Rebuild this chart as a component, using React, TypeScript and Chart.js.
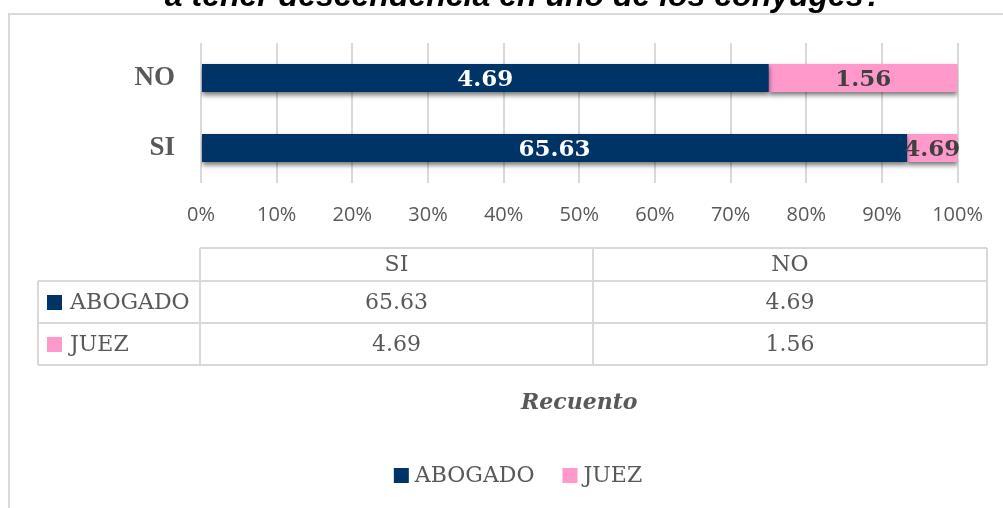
import React, { useEffect, useRef } from "react";
import { Chart, registerables } from "chart.js";

Chart.register(...registerables);

// ---- data ----
const categories = ["SI", "NO"];
const seriesNames = ["ABOGADO", "JUEZ"];
const abogadoValues = [65.63, 4.69];
const juezValues = [4.69, 1.56];
const chartTitle = "a tener descendencia en uno de los cónyuges?";
const axisTitle = "Recuento";

const NAVY = "#003366";
const PINK = "#FF99CC";
const GRAY_TEXT = "#595959";
const LINE = "#d9d9d9";
const SERIF = '"DejaVu Serif"';

const totals = categories.map((_, i) => abogadoValues[i] + juezValues[i]);
const abogadoPct = abogadoValues.map((v, i) => (v / totals[i]) * 100);
const juezPct = juezValues.map((v, i) => (v / totals[i]) * 100);
const seriesRaw = [abogadoValues, juezValues];
const seriesColors = [NAVY, PINK];
const labelColors = ["#ffffff", "#404040"];

const decorPlugin = {
  id: "excelDecor",
  beforeDraw(chart: any) {
    const ctx = chart.ctx;
    ctx.save();
    ctx.fillStyle = "#ffffff";
    ctx.fillRect(0, 0, chart.width, chart.height);
    // chart frame
    ctx.strokeStyle = LINE;
    ctx.lineWidth = 2;
    ctx.strokeRect(9, 14, 1016, 600);
    // title (clipped at top)
    ctx.fillStyle = "#000000";
    ctx.font = 'bold italic 32px "Liberation Sans"';
    ctx.textAlign = "center";
    ctx.textBaseline = "alphabetic";
    ctx.fillText(chartTitle, 524, 6);
    ctx.restore();
  },
  beforeDatasetsDraw(chart: any) {
    const ctx = chart.ctx;
    ctx.save();
    ctx.shadowColor = "rgba(0,0,0,0.55)";
    ctx.shadowBlur = 5;
    ctx.shadowOffsetX = 0;
    ctx.shadowOffsetY = 3;
  },
  afterDatasetsDraw(chart: any) {
    const ctx = chart.ctx;
    ctx.restore();
    ctx.save();
    ctx.font = `bold 23px ${SERIF}`;
    ctx.textAlign = "center";
    ctx.textBaseline = "middle";
    chart.data.datasets.forEach((ds: any, di: number) => {
      const meta = chart.getDatasetMeta(di);
      meta.data.forEach((el: any, i: number) => {
        const p = el.getProps(["x", "y", "base"], true);
        const cx = (p.x + p.base) / 2;
        ctx.fillStyle = labelColors[di];
        ctx.fillText(seriesRaw[di][i].toFixed(2), cx, p.y + 2);
      });
    });
    ctx.restore();
  },
  afterDraw(chart: any) {
    const ctx = chart.ctx;
    const area = chart.chartArea;
    ctx.save();
    // ---- data table ----
    const xL = 38, xC0 = 200, xC1 = 593, xR = 987;
    const yH = 248, y1 = 281, y2 = 323, y3 = 365;
    ctx.strokeStyle = LINE;
    ctx.lineWidth = 2;
    ctx.beginPath();
    ctx.moveTo(xC0, yH); ctx.lineTo(xR, yH);
    ctx.moveTo(xL, y1); ctx.lineTo(xR, y1);
    ctx.moveTo(xL, y2); ctx.lineTo(xR, y2);
    ctx.moveTo(xL, y3); ctx.lineTo(xR, y3);
    ctx.moveTo(xL, y1); ctx.lineTo(xL, y3);
    ctx.moveTo(xC0, yH); ctx.lineTo(xC0, y3);
    ctx.moveTo(xC1, yH); ctx.lineTo(xC1, y3);
    ctx.moveTo(xR, yH); ctx.lineTo(xR, y3);
    ctx.stroke();

    ctx.font = `22px ${SERIF}`;
    ctx.fillStyle = GRAY_TEXT;
    ctx.textBaseline = "middle";
    ctx.textAlign = "center";
    const colX = [(xC0 + xC1) / 2, (xC1 + xR) / 2];
    categories.forEach((c, i) => ctx.fillText(c, colX[i], (yH + y1) / 2 + 1));
    const rowY = [(y1 + y2) / 2 + 1, (y2 + y3) / 2 + 1];
    seriesNames.forEach((name, si) => {
      ctx.fillStyle = seriesColors[si];
      ctx.fillRect(47, rowY[si] - 8, 15, 15);
      ctx.fillStyle = GRAY_TEXT;
      ctx.textAlign = "left";
      ctx.fillText(name, 70, rowY[si]);
      ctx.textAlign = "center";
      seriesRaw[si].forEach((v, ci) => ctx.fillText(v.toFixed(2), colX[ci], rowY[si]));
    });

    // ---- axis title ----
    ctx.font = `bold italic 22px ${SERIF}`;
    ctx.textAlign = "center";
    ctx.fillText(axisTitle, (area.left + area.right) / 2, 403);

    // ---- legend ----
    ctx.font = `22px ${SERIF}`;
    const sq = 15, gap = 6, spacing = 28;
    const widths = seriesNames.map((n) => ctx.measureText(n).width);
    const total = widths.reduce((a, w) => a + sq + gap + w, 0) + spacing * (seriesNames.length - 1);
    let x = 518 - total / 2;
    const ly = 476;
    ctx.textAlign = "left";
    seriesNames.forEach((n, i) => {
      ctx.fillStyle = seriesColors[i];
      ctx.fillRect(x, ly - 8, sq, sq);
      ctx.fillStyle = GRAY_TEXT;
      ctx.fillText(n, x + sq + gap, ly);
      x += sq + gap + widths[i] + spacing;
    });
    ctx.restore();
  },
};

export default function App() {
  const ref = useRef<HTMLCanvasElement | null>(null);
  useEffect(() => {
    if (!ref.current) return;
    const chart = new Chart(ref.current, {
      type: "bar",
      data: {
        labels: categories,
        datasets: [
          {
            label: seriesNames[0],
            data: abogadoPct,
            backgroundColor: NAVY,
            categoryPercentage: 0.8,
            barPercentage: 0.5,
          },
          {
            label: seriesNames[1],
            data: juezPct,
            backgroundColor: PINK,
            categoryPercentage: 0.8,
            barPercentage: 0.5,
          },
        ],
      },
      options: {
        indexAxis: "y",
        animation: false,
        responsive: false,
        maintainAspectRatio: false,
        events: [],
        layout: { padding: { top: 43, right: 44, left: 0, bottom: 0 } },
        scales: {
          x: {
            stacked: true,
            min: 0,
            max: 100,
            ticks: {
              stepSize: 10,
              autoSkip: false,
              maxRotation: 0,
              callback: (v: any) => `${v}%`,
              font: { family: '"Open Sans"', size: 20 },
              color: GRAY_TEXT,
              padding: 20,
            },
            grid: { color: LINE, lineWidth: 2, drawTicks: false },
            border: { display: false },
            afterFit: (s: any) => {
              s.height = 508 - 183;
            },
          },
          y: {
            stacked: true,
            reverse: true,
            ticks: {
              font: { family: '"Liberation Serif"', weight: "bold", size: 27 },
              color: GRAY_TEXT,
              padding: 26,
            },
            grid: { display: false, drawTicks: false },
            border: { display: false },
            afterFit: (s: any) => {
              s.width = 201;
            },
          },
        },
        plugins: {
          legend: { display: false },
          tooltip: { enabled: false },
          title: { display: false },
        },
      },
      plugins: [decorPlugin],
    });
    return () => chart.destroy();
  }, []);
  return (
    <canvas
      ref={ref}
      width={1003}
      height={508}
      style={{ position: "fixed", left: 0, top: 0, width: 1003, height: 508, display: "block" }}
    />
  );
}
